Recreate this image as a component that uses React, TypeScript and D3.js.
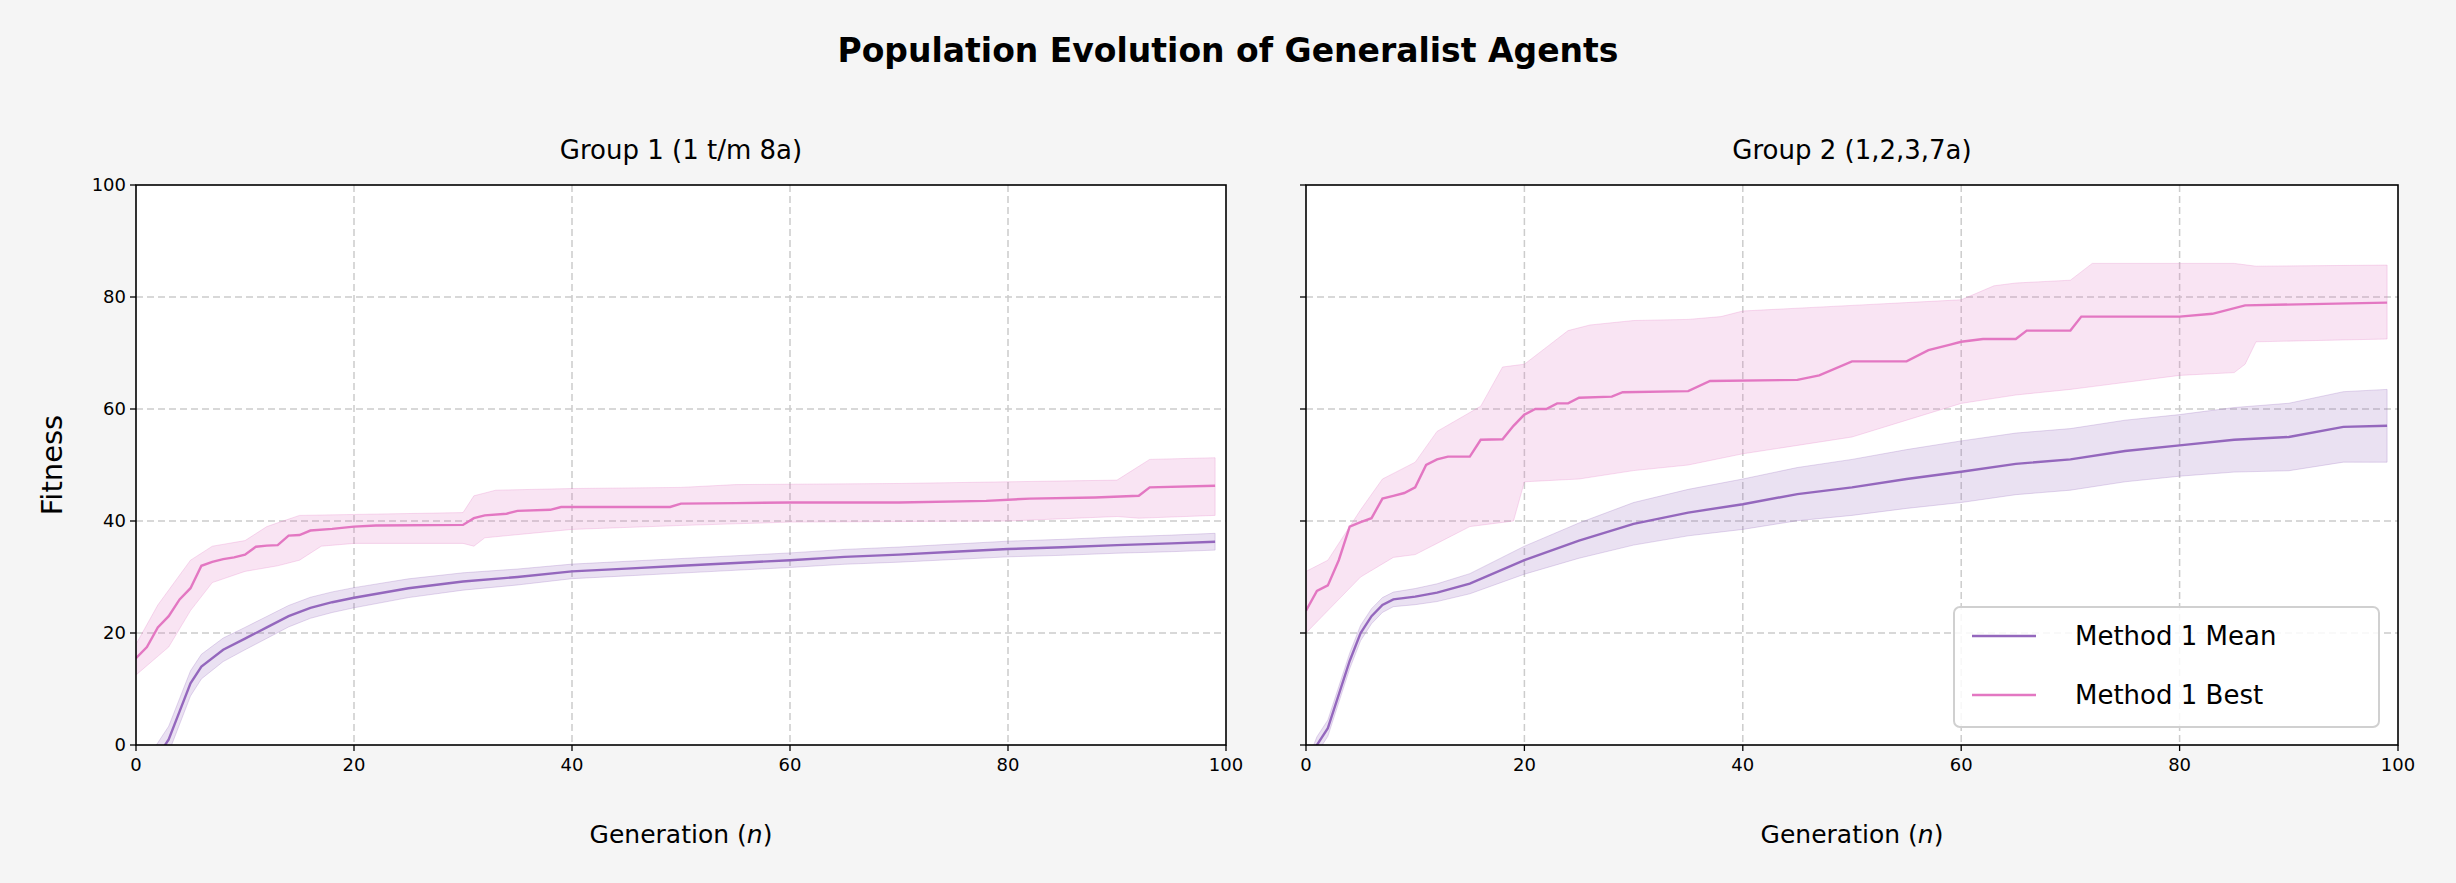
import React from 'react';
import * as d3 from 'd3';

type P = [number, number];

// Group 1 (1 t/m 8a)
const g1Mean: P[] = [[0,-8],[2,-2],[3,1],[4,6],[5,11],[6,14],[8,17],[10,19],[12,21],[14,23],[16,24.5],[18,25.5],[20,26.3],[25,28],[30,29.2],[35,30],[40,31],[45,31.5],[50,32],[55,32.5],[60,33],[65,33.6],[70,34],[75,34.5],[80,35],[85,35.3],[90,35.7],[95,36],[99,36.3]];
const g1MeanSd: P[] = [[0,2.5],[10,2],[20,1.8],[40,1.3],[60,1.3],[80,1.4],[99,1.5]];
const g1Best: P[] = [[0,15.5],[1,17.5],[2,21],[3,23],[4,26],[5,28],[6,32],[7,32.7],[8,33.2],[9,33.5],[10,34],[11,35.4],[12,35.6],[13,35.7],[14,37.4],[15,37.5],[16,38.3],[18,38.6],[20,39],[22,39.2],[30,39.3],[31,40.5],[32,41],[34,41.3],[35,41.8],[38,42],[39,42.5],[49,42.5],[50,43.1],[55,43.2],[60,43.3],[70,43.3],[78,43.6],[82,44],[88,44.2],[92,44.5],[93,46],[99,46.3]];
const g1BestHi: P[] = [[0,18],[2,25],[5,33],[7,35.5],[10,36.5],[12,39],[15,41],[30,41.5],[31,44.5],[33,45.5],[40,45.8],[50,46],[55,46.5],[70,46.7],[90,47.3],[93,51],[99,51.3]];
const g1BestLo: P[] = [[0,12.5],[3,17.5],[5,24],[7,29],[10,31],[13,32],[15,33],[17,35.5],[20,36],[30,36],[31,35.5],[32,37],[40,38.5],[50,39.2],[60,39.8],[80,40],[90,40.8],[92,40.5],[99,41]];

// Group 2 (1,2,3,7a)
const g2Mean: P[] = [[0,-5],[1,0],[2,3],[3,9],[4,15],[5,20],[6,23],[7,25],[8,26],[10,26.5],[12,27.2],[15,28.8],[20,33],[25,36.5],[30,39.5],[35,41.5],[40,43],[45,44.8],[50,46],[55,47.5],[60,48.8],[65,50.2],[70,51],[75,52.5],[80,53.5],[85,54.5],[90,55],[95,56.8],[99,57]];
const g2MeanSd: P[] = [[0,1.5],[8,1.3],[15,1.8],[20,2.5],[30,3.8],[40,4.5],[60,5.5],[80,5.5],[99,6.5]];
const g2Best: P[] = [[0,24],[1,27.5],[2,28.5],[3,33],[4,39],[5,39.8],[6,40.5],[7,44],[8,44.5],[9,45],[10,46],[11,50],[12,51],[13,51.5],[15,51.5],[16,54.5],[18,54.6],[19,57],[20,59],[21,60],[22,60],[23,61],[24,61],[25,62],[28,62.2],[29,63],[35,63.2],[37,65],[45,65.2],[47,66],[50,68.5],[55,68.5],[57,70.5],[59,71.5],[60,72],[62,72.5],[65,72.5],[66,74],[70,74],[71,76.5],[80,76.5],[83,77],[86,78.5],[99,79]];
const g2BestHi: P[] = [[0,31],[2,33],[5,42],[7,47.5],[10,50.5],[12,56],[16,60.5],[18,67.5],[20,68],[22,71],[24,74],[26,75],[30,75.8],[35,76],[38,76.5],[40,77.5],[50,78.5],[60,79.5],[63,82],[65,82.5],[70,83],[72,86],[85,86],[87,85.5],[99,85.7]];
const g2BestLo: P[] = [[0,20],[2,24],[5,30],[8,33.5],[10,34],[12,36],[15,39],[19,40],[20,47],[25,47.5],[30,49],[35,50],[40,52],[50,55],[55,58],[60,61],[65,62.5],[70,63.5],[80,66],[85,66.5],[86,68],[87,72],[99,72.5]];

const xTicks = [0, 20, 40, 60, 80, 100];
const yTicks = [0, 20, 40, 60, 80, 100];
const MEAN = '#9467bd';
const BEST = '#e377c2';
const FONT = 'DejaVu Sans, sans-serif';

const W = 2456, H = 883;
const TOP = 185, BOT = 745;

function interp(pts: P[], x: number) {
  return d3.scaleLinear().domain(pts.map(p => p[0])).range(pts.map(p => p[1]))(x);
}

const Panel = ({ left, right, title, mean, sd, best, hi, lo, id, yLabels, legend }: any) => {
  const x = d3.scaleLinear().domain([0, 100]).range([left, right]);
  const y = d3.scaleLinear().domain([0, 100]).range([BOT, TOP]);
  const line = d3.line<P>().x(d => x(d[0])).y(d => y(d[1]));
  const band = d3.area<P>().x(d => x(d[0])).y0(d => y(d[1] - interp(sd, d[0]))).y1(d => y(d[1] + interp(sd, d[0])));
  const xs = Array.from(new Set([...hi.map((p: P) => p[0]), ...lo.map((p: P) => p[0])])).sort((a: any, b: any) => a - b) as number[];
  const bestBand = d3.area<number>().x(d => x(d)).y0(d => y(interp(lo, d))).y1(d => y(interp(hi, d)));
  return (
    <g>
      <defs><clipPath id={id}><rect x={left} y={TOP} width={right - left} height={BOT - TOP} /></clipPath></defs>
      <rect x={left} y={TOP} width={right - left} height={BOT - TOP} fill="#fff" />
      <g stroke="#cccccc" strokeWidth={1.5} strokeDasharray="7,4">
        {xTicks.slice(1, -1).map(t => <line key={'x' + t} x1={x(t)} x2={x(t)} y1={TOP} y2={BOT} />)}
        {yTicks.slice(1, -1).map(t => <line key={'y' + t} x1={left} x2={right} y1={y(t)} y2={y(t)} />)}
      </g>
      <g clipPath={`url(#${id})`}>
        <path d={bestBand(xs) || ''} fill={BEST} fillOpacity={0.2} stroke={BEST} strokeOpacity={0.25} />
        <path d={band(mean) || ''} fill={MEAN} fillOpacity={0.2} stroke={MEAN} strokeOpacity={0.25} />
        <path d={line(mean) || ''} fill="none" stroke={MEAN} strokeWidth={2.4} />
        <path d={line(best) || ''} fill="none" stroke={BEST} strokeWidth={2.4} />
      </g>
      <rect x={left} y={TOP} width={right - left} height={BOT - TOP} fill="none" stroke="#000" strokeWidth={1.6} />
      {xTicks.map(t => (
        <g key={'xt' + t}>
          <line x1={x(t)} x2={x(t)} y1={BOT} y2={BOT + 6} stroke="#000" strokeWidth={1.3} />
          <text x={x(t)} y={BOT + 26} textAnchor="middle" fontSize={18} fontFamily={FONT}>{t}</text>
        </g>
      ))}
      {yTicks.map(t => (
        <g key={'yt' + t}>
          <line x1={left} x2={left - 6} y1={y(t)} y2={y(t)} stroke="#000" strokeWidth={1.3} />
          {yLabels && <text x={left - 10} y={y(t) + 6} textAnchor="end" fontSize={18} fontFamily={FONT}>{t}</text>}
        </g>
      ))}
      <text x={(left + right) / 2} y={TOP - 26} textAnchor="middle" fontSize={26} fontFamily={FONT}>{title}</text>
      <text x={(left + right) / 2} y={BOT + 98} textAnchor="middle" fontSize={25} fontFamily={FONT}>
        Generation (<tspan fontStyle="italic">n</tspan>)
      </text>
      {legend && (
        <g>
          <rect x={1954} y={607} width={425} height={120} rx={6} fill="#fff" fillOpacity={0.85} stroke="#d0d0d0" strokeWidth={2} />
          <line x1={1972} x2={2036} y1={636} y2={636} stroke={MEAN} strokeWidth={2.4} />
          <text x={2075} y={645} fontSize={26} fontFamily={FONT}>Method 1 Mean</text>
          <line x1={1972} x2={2036} y1={695} y2={695} stroke={BEST} strokeWidth={2.4} />
          <text x={2075} y={704} fontSize={26} fontFamily={FONT}>Method 1 Best</text>
        </g>
      )}
    </g>
  );
};

export default function App() {
  return (
    <svg width={W} height={H} style={{ display: 'block', position: 'absolute', left: 0, top: 0 }}>
      <rect width={W} height={H} fill="#f5f5f5" />
      <text x={W / 2} y={62} textAnchor="middle" fontSize={33} fontWeight="bold" fontFamily={FONT}>Population Evolution of Generalist Agents</text>
      <text transform={`translate(62,${(TOP + BOT) / 2}) rotate(-90)`} textAnchor="middle" fontSize={29} fontFamily={FONT}>Fitness</text>
      <Panel left={136} right={1226} title="Group 1 (1 t/m 8a)" mean={g1Mean} sd={g1MeanSd} best={g1Best} hi={g1BestHi} lo={g1BestLo} id="c1" yLabels legend={false} />
      <Panel left={1306} right={2398} title="Group 2 (1,2,3,7a)" mean={g2Mean} sd={g2MeanSd} best={g2Best} hi={g2BestHi} lo={g2BestLo} id="c2" yLabels={false} legend />
    </svg>
  );
}
